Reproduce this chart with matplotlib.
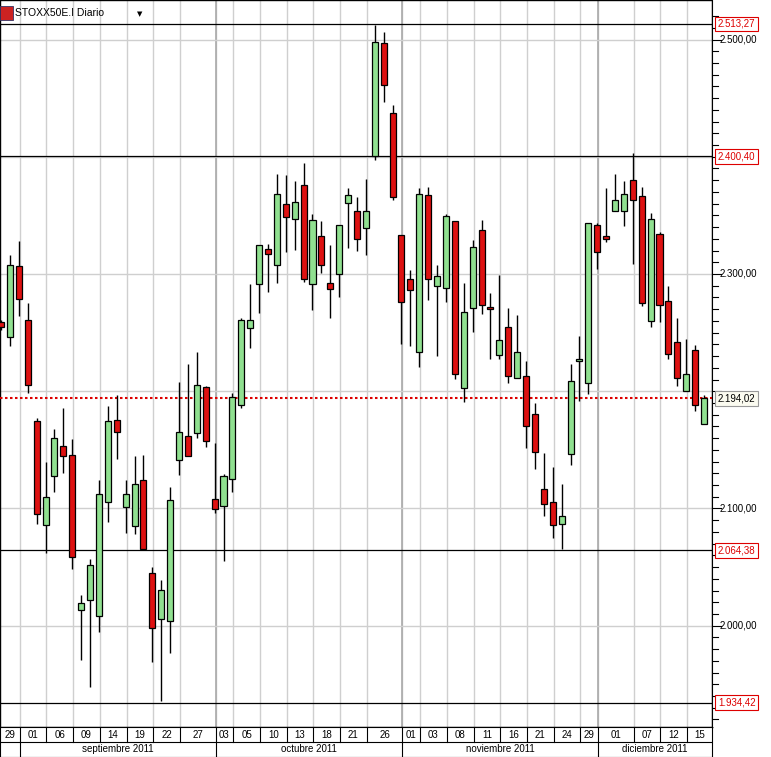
import matplotlib
matplotlib.use("Agg")
import matplotlib.pyplot as plt
from matplotlib.patches import Rectangle

plt.rcParams['font.family'] = ['Liberation Sans', 'DejaVu Sans']

opens = [2259.0,2246.2,2306.8,2260.7,2174.6,2085.9,2127.7,2153.3,2145.6,2013.4,
         2021.9,2008.3,2105.5,2175.4,2101.2,2085.0,2124.3,2044.9,2005.7,2004.0,
         2141.3,2161.8,2164.4,2203.6,2108.1,2102.1,2125.1,2188.2,2253.9,2291.4,
         2321.3,2307.7,2359.7,2346.9,2375.9,2291.4,2332.4,2292.3,2300.0,2360.5,
         2353.7,2339.2,2400.6,2497.0,2437.3,2333.3,2295.7,2233.4,2367.4,2289.7,
         2288.0,2345.2,2202.7,2271.0,2337.5,2271.8,2230.9,2254.8,2211.3,2213.0,
         2180.6,2116.6,2105.5,2086.7,2146.4,2225.8,2207.0,2341.8,2332.4,2353.7,
         2353.7,2380.2,2366.5,2259.9,2334.1,2276.9,2242.0,2200.2,2235.2,2172.0]
closes = [2254.8,2307.7,2278.7,2205.3,2095.3,2109.8,2160.1,2144.7,2058.6,2019.4,
          2051.8,2112.3,2174.6,2165.2,2112.3,2120.8,2065.4,1998.0,2030.4,2107.2,
          2165.2,2144.7,2205.3,2157.5,2099.5,2127.7,2195.1,2260.7,2260.7,2324.7,
          2317.0,2368.2,2348.6,2361.4,2295.7,2346.1,2307.7,2287.2,2341.8,2367.4,
          2329.8,2353.7,2497.9,2461.2,2365.7,2276.1,2286.3,2368.2,2295.7,2298.3,
          2349.5,2214.7,2267.6,2323.0,2273.5,2270.1,2243.7,2213.0,2233.4,2170.3,
          2148.1,2103.8,2085.9,2093.6,2208.7,2227.5,2343.5,2318.7,2329.8,2363.1,
          2368.2,2363.1,2275.2,2346.9,2273.5,2231.7,2211.3,2214.7,2188.2,2194.0]
highs = [2260.7,2316.2,2328.1,2275.2,2177.2,2139.6,2167.8,2185.7,2159.2,2026.2,
         2056.9,2124.3,2187.4,2196.8,2124.3,2144.7,2145.6,2050.1,2039.0,2118.3,
         2207.9,2223.2,2233.4,2204.4,2155.8,2129.4,2198.5,2262.4,2291.4,2324.7,
         2325.6,2385.3,2384.4,2379.3,2394.7,2351.2,2345.2,2324.7,2341.8,2373.3,
         2365.7,2381.0,2512.4,2506.4,2444.1,2333.3,2303.4,2373.3,2374.2,2307.7,
         2351.2,2345.2,2292.3,2329.0,2346.1,2283.8,2299.1,2271.0,2265.0,2225.8,
         2190.0,2147.3,2135.4,2120.8,2223.2,2247.1,2343.5,2343.5,2373.3,2385.3,
         2379.3,2403.2,2374.2,2352.0,2335.8,2289.7,2262.4,2244.5,2239.5,2196.8]
lows = [2252.2,2238.6,2264.1,2198.5,2086.7,2062.0,2114.0,2130.2,2048.3,1970.7,
        1947.7,1994.6,2088.4,2142.2,2079.1,2078.2,2065.4,1969.0,1935.7,1976.7,
        2128.5,2144.7,2160.1,2152.4,2096.1,2055.2,2114.0,2186.0,2236.9,2266.7,
        2284.6,2292.3,2318.7,2320.4,2293.2,2269.3,2300.8,2262.4,2280.4,2322.2,
        2319.6,2316.2,2397.2,2446.7,2363.1,2240.3,2238.6,2220.6,2277.8,2230.0,
        2276.1,2210.4,2190.8,2250.5,2265.9,2227.5,2227.5,2207.0,2211.3,2151.6,
        2133.6,2093.6,2074.8,2065.4,2137.1,2191.6,2197.6,2304.2,2327.3,2353.7,
        2340.9,2308.5,2272.7,2254.8,2259.0,2227.5,2204.4,2200.2,2183.1,2172.0]

day_idx = [0,3,6,9,12,15,18,21,25,27,30,33,36,39,42,46,48,51,54,57,60,63,66,68,72,75,78]
day_lbl = ['29','01','06','09','14','19','22','27','03','05','10','13','18','21','26',
           '01','03','08','11','16','21','24','29','01','07','12','15']
month_idx = [3,25,46,68]
month_lbl = ['septiembre 2011','octubre 2011','noviembre 2011','diciembre 2011']
ref_levels = [2513.27,2400.40,2064.38,1934.42]
ref_lbls = ['2.513,27','2.400,40','2.064,38','1.934,42']
last_price = 2194.02
last_lbl = '2.194,02'
yticks = [2000,2100,2300,2500]
ytick_lbls = ['2.000,00','2.100,00','2.300,00','2.500,00']

W, H = 771, 757
fig = plt.figure(figsize=(W/100, H/100), dpi=100)
px_r = 712
ax = fig.add_axes([0, 30/H, px_r/W, 727/H])
XMIN, XMAX = -0.12, 79.9
ax.set_xlim(XMIN, XMAX)
ax.set_ylim(1913.6, 2533.7)

seps = [i - 0.9 for i in day_idx[1:]]
for s in seps:
    ax.axvline(s, color='#cfcfcf', lw=1, zorder=0)
for m in month_idx[1:]:
    ax.axvline(m - 0.9, color='#aaaaaa', lw=1.2, zorder=0)
for t in [2000,2100,2200,2300,2400,2500]:
    ax.axhline(t, color='#cfcfcf', lw=1, zorder=0)
for lv in ref_levels:
    ax.axhline(lv, color='black', lw=0.9, zorder=1)
ax.axhline(last_price, color='#dd0000', lw=1.5, ls=(0, (1.2, 1.2)), zorder=3)

w = 0.68
for i,(o,c,h,l) in enumerate(zip(opens,closes,highs,lows)):
    col = '#90e090' if c >= o else '#dd1111'
    ax.vlines(i, l, h, color='black', lw=1, zorder=4)
    ax.add_patch(Rectangle((i - w/2, min(o,c)), w, max(abs(c-o), 0.8),
                           facecolor=col, edgecolor='black', lw=0.9, zorder=5))

ax.set_xticks([]); ax.set_yticks([])
for sp in ax.spines.values():
    sp.set_color('black'); sp.set_linewidth(1)

# title
ax.add_patch(Rectangle((0.0, 0.972), 0.018, 0.02, transform=ax.transAxes,
                       facecolor='#cc2222', edgecolor='#333366', lw=0.6, zorder=6))
ax.text(0.021, 0.982, 'STOXX50E.I Diario', transform=ax.transAxes, fontsize=7.5,
        va='center', ha='left', zorder=6)
ax.text(0.193, 0.981, '▼', transform=ax.transAxes, fontsize=5, va='center',
        ha='left', family=['DejaVu Sans'])

# right axis
ay = fig.add_axes([px_r/W, 30/H, (W-px_r)/W, 727/H])
ay.set_ylim(ax.get_ylim()); ay.set_xlim(0, 1)
ay.set_xticks([])
ay.set_yticks([])
for s in ['top','right','bottom']:
    ay.spines[s].set_visible(False)
for v in range(1920, 2530, 10):
    ln = 0.1 if v % 100 else 0.16
    ay.plot([0, ln], [v, v], color='black', lw=0.8)
for t, lb in zip(yticks, ytick_lbls):
    ay.text(0.12, t, lb, fontsize=7, va='center', ha='left')
for lv, lb in zip(ref_levels, ref_lbls):
    ay.text(0.1, lv, lb, fontsize=7, va='center', ha='left', color='#dd0000',
            bbox=dict(boxstyle='square,pad=0.25', fc='white', ec='#dd0000', lw=0.8))
ay.text(0.1, last_price, last_lbl, fontsize=7, va='center', ha='left', color='black',
        bbox=dict(boxstyle='square,pad=0.25', fc='#fbfbf0', ec='#999999', lw=0.8))

# date axis
ad = fig.add_axes([0, 0, px_r/W, 30/H])
ad.set_xlim(XMIN, XMAX); ad.set_ylim(0, 2)
ad.set_xticks([]); ad.set_yticks([])
for sp in ad.spines.values():
    sp.set_color('black')
ad.axhline(1.0, color='black', lw=0.8)
bounds = [XMIN] + seps + [XMAX]
for s in seps:
    ad.plot([s, s], [1, 2], color='black', lw=0.8)
for k, lb in enumerate(day_lbl):
    ad.text((bounds[k] + bounds[k+1]) / 2, 1.5, lb, fontsize=7, ha='center', va='center')
mb = [m - 0.9 for m in month_idx] + [XMAX]
for m in mb[:-1]:
    ad.plot([m, m], [0, 1], color='black', lw=0.8)
for k, lb in enumerate(month_lbl):
    ad.text((mb[k] + mb[k+1]) / 2, 0.5, lb, fontsize=7, ha='center', va='center')

fig.savefig('out.png', dpi=100, facecolor='white')
